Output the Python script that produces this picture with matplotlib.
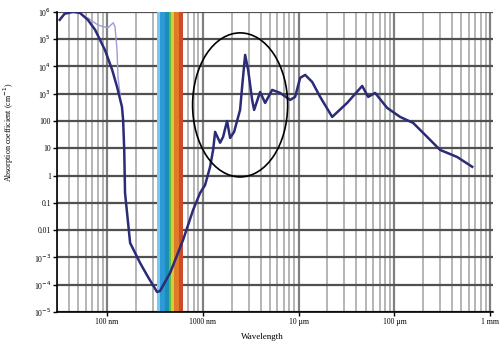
import matplotlib
matplotlib.use('Agg')
import matplotlib.pyplot as plt
from matplotlib.patches import Ellipse
from matplotlib.ticker import LogLocator, NullFormatter

# main absorption curve: wavelength (nm), absorption coefficient (cm^-1)
wavelength = [32, 36, 44, 52, 63, 75, 95, 113, 127, 143, 147, 151, 154, 174, 221,
              268, 333, 357, 455, 622, 791, 935, 1055, 1190, 1280, 1343, 1514,
              1626, 1790, 1926, 2120, 2447, 2570, 2763, 2970, 3270, 3430, 3960,
              4470, 5290, 6410, 8150, 9190, 10370, 11700, 13840, 16790, 22400,
              32100, 46100, 53200, 62900, 84000, 114800, 157000, 220000, 300000,
              452000, 649000]
absorption = [5.1e5, 8.5e5, 1.0e6, 9.2e5, 5.1e5, 2.2e5, 4.0e4, 7.5e3, 1.8e3, 330,
              110, 8.7, 0.23, 3.4e-3, 6.3e-4, 1.9e-4, 5.4e-5, 5.9e-5, 2.7e-4,
              4.4e-3, 0.055, 0.23, 0.45, 2.1, 8.7, 40, 16, 26, 100, 24, 40, 255,
              1780, 2.65e4, 7.5e3, 593, 255, 1160, 460, 1380, 1070, 593, 764,
              3800, 4900, 2710, 764, 141, 460, 1930, 764, 1070, 302, 141, 85, 26,
              8.7, 4.8, 2.1]

# second, lighter curve in the far UV
wl_uv = [63, 80, 102, 116, 121, 127, 130, 137]
abs_uv = [6.0e5, 3.3e5, 2.6e5, 4.0e5, 2.8e5, 4.0e4, 4100, 900]

# visible band stripes
band_edges = [333, 360, 400, 440, 470, 500, 560, 622]
band_colors = ['#7cc8ec', '#2c9ad6', '#1a8fb2', '#62b846', '#cfd033', '#e07a2a', '#cf4a28']

ytick_vals = [1e6, 1e5, 1e4, 1e3, 100, 10, 1, 0.1, 0.01, 1e-3, 1e-4, 1e-5]
ytick_labels = ['10$^6$', '10$^5$', '10$^4$', '10$^3$', '100', '10', '1', '0.1',
                '0.01', '10$^{-3}$', '10$^{-4}$', '10$^{-5}$']
xtick_vals = [100, 1000, 1e4, 1e5, 1e6]
xtick_labels = ['100 nm', '1000 nm', '10 µm', '100 µm', '1 mm']

plt.rcParams['font.family'] = ['Liberation Serif', 'DejaVu Serif']

fig = plt.figure(figsize=(5, 3.43), dpi=100)
ax = fig.add_axes([0.114, 0.0904, 0.872, 0.875])
ax.set_xscale('log')
ax.set_yscale('log')
ax.set_xlim(30, 1.07e6)
ax.set_ylim(1e-5, 1e6)

for i in range(len(band_colors)):
    ax.axvspan(band_edges[i], band_edges[i + 1], color=band_colors[i], lw=0, zorder=1)

ax.xaxis.set_major_locator(LogLocator(base=10))
ax.xaxis.set_minor_locator(LogLocator(base=10, subs=range(2, 10)))
ax.xaxis.set_minor_formatter(NullFormatter())
ax.set_xticks(xtick_vals)
ax.set_xticklabels(xtick_labels)
ax.set_yticks(ytick_vals)
ax.set_yticklabels(ytick_labels)
ax.yaxis.set_minor_locator(plt.NullLocator())

ax.grid(True, which='major', axis='x', color='#808080', lw=1.6, zorder=0)
ax.grid(True, which='minor', axis='x', color='#b0b0b0', lw=1.3, zorder=0)
ax.grid(True, which='major', axis='y', color='#505050', lw=1.6, zorder=0)
ax.set_axisbelow(True)

ax.plot(wl_uv, abs_uv, color='#9c9cdc', lw=1.0, zorder=3)
ax.plot(wavelength, absorption, color='#2b2b78', lw=1.8, zorder=4)

ax.add_patch(Ellipse((0.42, 0.69), 0.218, 0.48, transform=ax.transAxes,
                     fill=False, ec='black', lw=1.2, zorder=5))

ax.tick_params(axis='both', which='major', labelsize=5.5, length=3, width=1, pad=1.5)
ax.tick_params(axis='x', which='minor', length=0)
for s in ['top', 'right']:
    ax.spines[s].set_visible(False)
ax.spines['left'].set_linewidth(1.2)
ax.spines['bottom'].set_linewidth(1.2)

ax.set_xlabel('Wavelength', fontsize=6.5)
ax.xaxis.set_label_coords(0.47, -0.07)
ax.set_ylabel('Absorption coefficient (cm$^{-1}$)', fontsize=5.8)
ax.yaxis.set_label_coords(-0.095, 0.6)

fig.savefig('out.png', dpi=100)
